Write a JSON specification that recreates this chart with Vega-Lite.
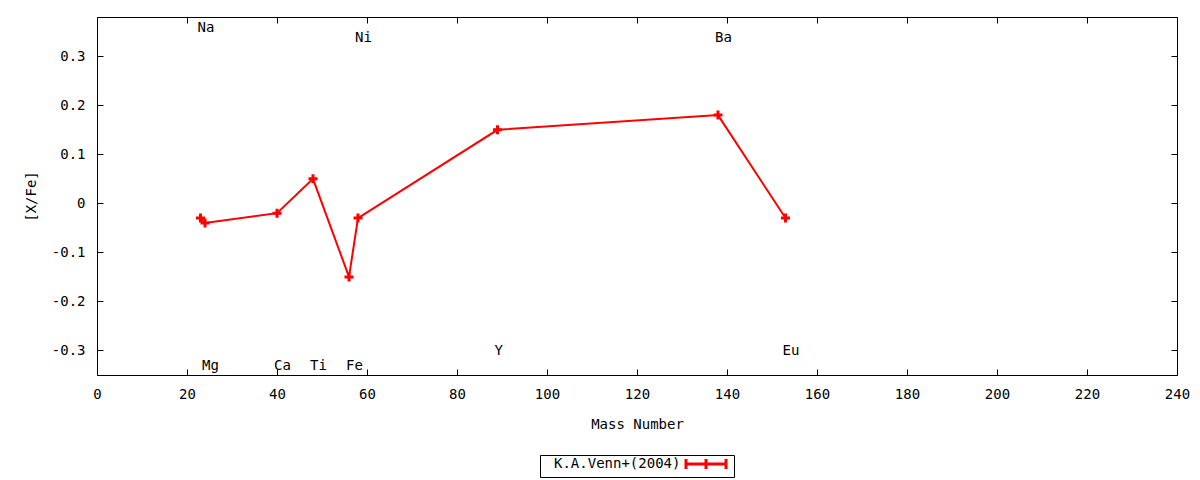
{
  "$schema": "https://vega.github.io/schema/vega-lite/v6.json",
  "description": "[X/Fe] vs Mass Number, K.A.Venn+(2004)",
  "width": 1080,
  "height": 358,
  "autosize": {"type": "none"},
  "padding": {"left": 97, "top": 17, "right": 23, "bottom": 105},
  "background": "#ffffff",
  "config": {
    "font": "DejaVu Sans Mono",
    "view": {"stroke": "#000000", "strokeWidth": 1},
    "axis": {
      "domain": false,
      "grid": false,
      "ticks": true,
      "tickColor": "#000000",
      "tickSize": -6,
      "tickWidth": 1,
      "labelFlush": false,
      "labelOverlap": false,
      "labelFont": "DejaVu Sans Mono",
      "labelFontSize": 14,
      "labelColor": "#000000",
      "titleFont": "DejaVu Sans Mono",
      "titleFontSize": 14,
      "titleFontWeight": "normal",
      "titleColor": "#000000"
    },
    "legend": {
      "labelFont": "DejaVu Sans Mono",
      "labelFontSize": 14,
      "labelColor": "#000000"
    }
  },
  "data": {
    "values": [
      {"element": "Na", "mass": 23, "xfe": -0.03, "label_y": 0.36, "source": "K.A.Venn+(2004)"},
      {"element": "Mg", "mass": 24, "xfe": -0.04, "label_y": -0.33, "source": "K.A.Venn+(2004)"},
      {"element": "Ca", "mass": 40, "xfe": -0.02, "label_y": -0.33, "source": "K.A.Venn+(2004)"},
      {"element": "Ti", "mass": 48, "xfe": 0.05, "label_y": -0.33, "source": "K.A.Venn+(2004)"},
      {"element": "Fe", "mass": 56, "xfe": -0.15, "label_y": -0.33, "source": "K.A.Venn+(2004)"},
      {"element": "Ni", "mass": 58, "xfe": -0.03, "label_y": 0.34, "source": "K.A.Venn+(2004)"},
      {"element": "Y", "mass": 89, "xfe": 0.15, "label_y": -0.30, "source": "K.A.Venn+(2004)"},
      {"element": "Ba", "mass": 138, "xfe": 0.18, "label_y": 0.34, "source": "K.A.Venn+(2004)"},
      {"element": "Eu", "mass": 153, "xfe": -0.03, "label_y": -0.30, "source": "K.A.Venn+(2004)"}
    ]
  },
  "layer": [
    {
      "mark": {"type": "line", "strokeWidth": 2},
      "encoding": {
        "x": {
          "field": "mass",
          "type": "quantitative",
          "scale": {"domain": [0, 240], "nice": false, "zero": false},
          "axis": {
            "orient": "bottom",
            "title": "Mass Number",
            "values": [0, 20, 40, 60, 80, 100, 120, 140, 160, 180, 200, 220, 240],
            "labelPadding": 18,
            "titlePadding": 16
          }
        },
        "y": {
          "field": "xfe",
          "type": "quantitative",
          "scale": {"domain": [-0.35, 0.38], "nice": false, "zero": false},
          "axis": {
            "orient": "left",
            "title": "[X/Fe]",
            "values": [-0.3, -0.2, -0.1, 0, 0.1, 0.2, 0.3],
            "labelExpr": "'' + datum.value",
            "labelPadding": 18,
            "titlePadding": 13
          }
        },
        "color": {
          "field": "source",
          "type": "nominal",
          "scale": {"range": ["#ff0000"]},
          "legend": {
            "title": null,
            "orient": "none",
            "legendX": 443,
            "legendY": 438,
            "strokeColor": "#000000",
            "padding": 2,
            "symbolType": "M-4,0H4M-4,-1V1M4,-1V1M0,-1V1",
            "symbolSize": 100,
            "symbolStrokeWidth": 3,
            "symbolOffset": 157,
            "labelOffset": -159
          }
        }
      }
    },
    {
      "mark": {"type": "point", "shape": "M-1,0H1M0,-1V1", "size": 81, "strokeWidth": 3, "filled": false, "opacity": 1},
      "encoding": {
        "x": {
          "field": "mass",
          "type": "quantitative",
          "axis": {
            "orient": "top",
            "title": null,
            "labels": false,
            "values": [0, 20, 40, 60, 80, 100, 120, 140, 160, 180, 200, 220, 240]
          }
        },
        "y": {"field": "xfe", "type": "quantitative", "axis": null},
        "color": {"field": "source", "type": "nominal"}
      }
    },
    {
      "mark": {"type": "text", "align": "left", "baseline": "middle", "dx": -3, "dy": 1, "fontSize": 14, "color": "#000000"},
      "encoding": {
        "x": {"field": "mass", "type": "quantitative", "axis": null},
        "y": {
          "field": "label_y",
          "type": "quantitative",
          "axis": {
            "orient": "right",
            "title": null,
            "labels": false,
            "values": [-0.3, -0.2, -0.1, 0, 0.1, 0.2, 0.3]
          }
        },
        "text": {"field": "element"}
      }
    }
  ]
}
